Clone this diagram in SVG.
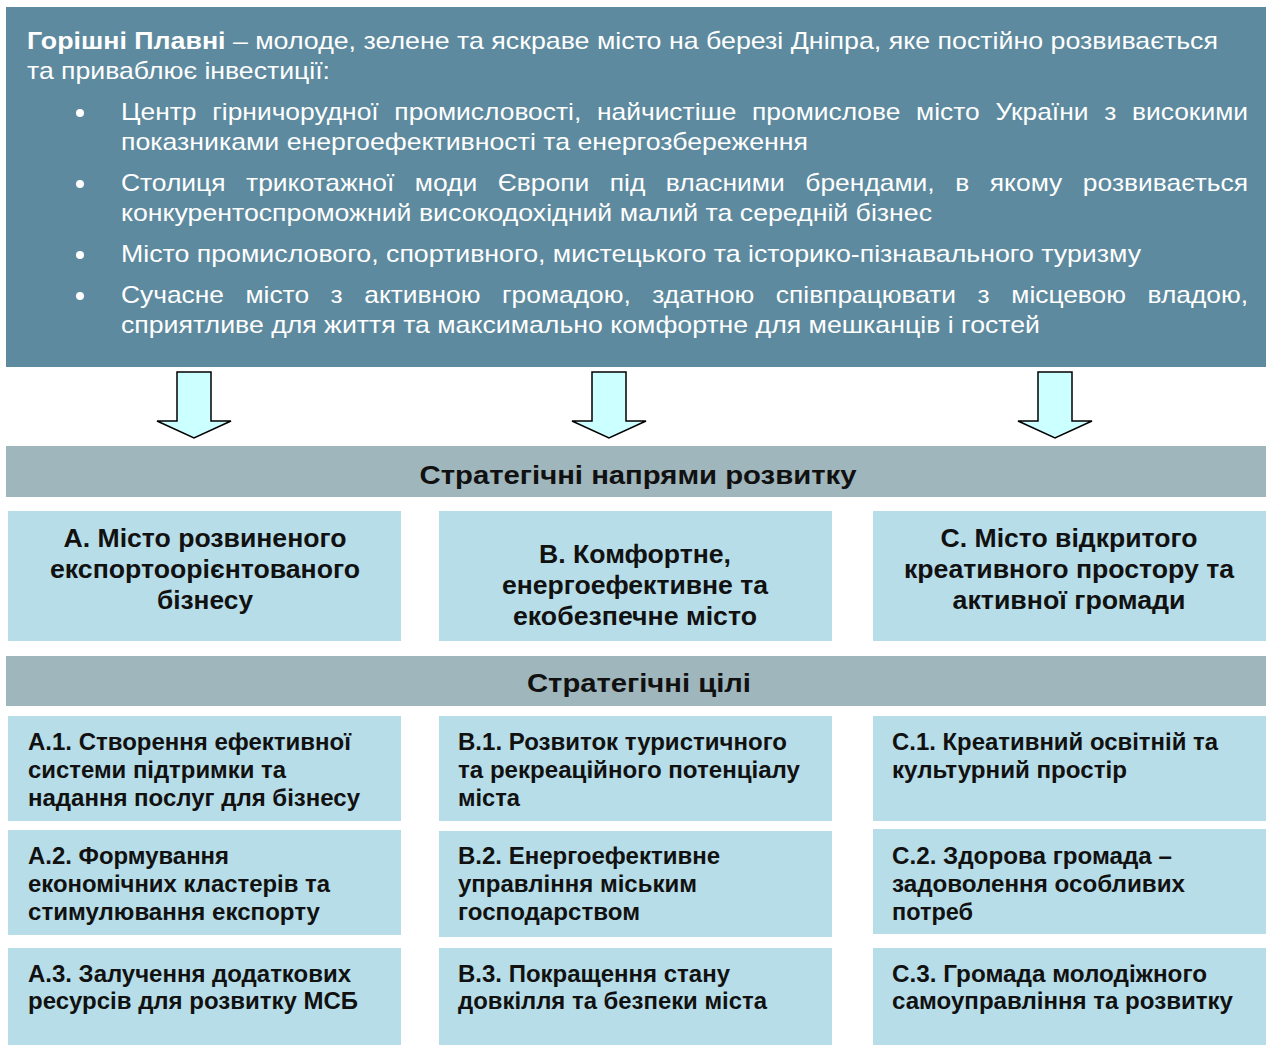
<svg xmlns="http://www.w3.org/2000/svg" width="1266" height="1046" viewBox="0 0 1266 1046">
<style>
.top{fill:#5D8A9E}
.bar{fill:#9FB6BC}
.box{fill:#B7DDE8}
.tw{font-family:"Liberation Sans",Arial,sans-serif;font-size:24px;fill:#FFFFFF}
.hd{font-family:"Liberation Sans",Arial,sans-serif;font-size:26px;font-weight:bold;fill:#111;text-anchor:middle}
.dir{font-family:"Liberation Sans",Arial,sans-serif;font-size:26px;font-weight:bold;fill:#111;text-anchor:middle}
.goal{font-family:"Liberation Sans",Arial,sans-serif;font-size:24px;font-weight:bold;fill:#111}
.arrow{fill:#CCFFFF;stroke:#000;stroke-width:1.5;stroke-linejoin:miter}
</style>
<rect width="1266" height="1046" fill="#FFFFFF"/>
<g id="vision">
<rect class="top" x="6" y="7" width="1260" height="360"/>
<text class="tw" x="27" y="49" textLength="1191" lengthAdjust="spacingAndGlyphs"><tspan font-weight="bold">Горішні Плавні</tspan> – молоде, зелене та яскраве місто на березі Дніпра, яке постійно розвивається</text>
<text class="tw" x="27" y="79" textLength="303" lengthAdjust="spacingAndGlyphs">та приваблює інвестиції:</text>
<circle cx="80" cy="113" r="4" fill="#FFFFFF"/>
<circle cx="80" cy="184" r="4" fill="#FFFFFF"/>
<circle cx="80" cy="255" r="4" fill="#FFFFFF"/>
<circle cx="80" cy="296" r="4" fill="#FFFFFF"/>
<text class="tw" x="121" y="120" word-spacing="7.6" textLength="1127" lengthAdjust="spacingAndGlyphs">Центр гірничорудної промисловості, найчистіше промислове місто України з високими</text>
<text class="tw" x="121" y="150" textLength="687" lengthAdjust="spacingAndGlyphs">показниками енергоефективності та енергозбереження</text>
<text class="tw" x="121" y="191" word-spacing="12" textLength="1127" lengthAdjust="spacingAndGlyphs">Столиця трикотажної моди Європи під власними брендами, в якому розвивається</text>
<text class="tw" x="121" y="221" textLength="811" lengthAdjust="spacingAndGlyphs">конкурентоспроможний високодохідний малий та середній бізнес</text>
<text class="tw" x="121" y="262" textLength="1020" lengthAdjust="spacingAndGlyphs">Місто промислового, спортивного, мистецького та історико-пізнавального туризму</text>
<text class="tw" x="121" y="303" word-spacing="13" textLength="1127" lengthAdjust="spacingAndGlyphs">Сучасне місто з активною громадою, здатною співпрацювати з місцевою владою,</text>
<text class="tw" x="121" y="333" textLength="919" lengthAdjust="spacingAndGlyphs">сприятливе для життя та максимально комфортне для мешканців і гостей</text>
</g>
<g id="connectors">
<path class="arrow" d="M177,372 H211 V421 H231 L194,438 L157,421 H177 Z"/>
<path class="arrow" d="M592,372 H626 V421 H646 L609,438 L572,421 H592 Z"/>
<path class="arrow" d="M1038,372 H1072 V421 H1092 L1055,438 L1018,421 H1038 Z"/>
</g>
<g id="header-directions">
<rect class="bar" x="6" y="446" width="1260" height="51"/>
<text class="hd" x="638" y="484" textLength="437" lengthAdjust="spacingAndGlyphs">Стратегічні напрями розвитку</text>
</g>
<g id="dir-A">
<rect class="box" x="8" y="511" width="393" height="130"/>
<text class="dir" x="205" y="547" textLength="283" lengthAdjust="spacingAndGlyphs">А. Місто розвиненого</text>
<text class="dir" x="205" y="578" textLength="310" lengthAdjust="spacingAndGlyphs">експортоорієнтованого</text>
<text class="dir" x="205" y="609" textLength="96" lengthAdjust="spacingAndGlyphs">бізнесу</text>
</g>
<g id="dir-B">
<rect class="box" x="439" y="511" width="393" height="130"/>
<text class="dir" x="635" y="563" textLength="192" lengthAdjust="spacingAndGlyphs">В. Комфортне,</text>
<text class="dir" x="635" y="594" textLength="266" lengthAdjust="spacingAndGlyphs">енергоефективне та</text>
<text class="dir" x="635" y="625" textLength="244" lengthAdjust="spacingAndGlyphs">екобезпечне місто</text>
</g>
<g id="dir-C">
<rect class="box" x="873" y="511" width="393" height="130"/>
<text class="dir" x="1069" y="547" textLength="257" lengthAdjust="spacingAndGlyphs">С. Місто відкритого</text>
<text class="dir" x="1069" y="578" textLength="330" lengthAdjust="spacingAndGlyphs">креативного простору та</text>
<text class="dir" x="1069" y="609" textLength="233" lengthAdjust="spacingAndGlyphs">активної громади</text>
</g>
<g id="header-goals">
<rect class="bar" x="6" y="656" width="1260" height="50"/>
<text class="hd" x="639" y="692" textLength="224" lengthAdjust="spacingAndGlyphs">Стратегічні цілі</text>
</g>
<g id="goal-A1">
<rect class="box" x="8" y="716" width="393" height="105"/>
<text class="goal" x="28" y="750" textLength="323" lengthAdjust="spacingAndGlyphs">А.1. Створення ефективної</text>
<text class="goal" x="28" y="778" textLength="258" lengthAdjust="spacingAndGlyphs">системи підтримки та</text>
<text class="goal" x="28" y="806" textLength="332" lengthAdjust="spacingAndGlyphs">надання послуг для бізнесу</text>
</g>
<g id="goal-A2">
<rect class="box" x="8" y="830" width="393" height="105"/>
<text class="goal" x="28" y="864" textLength="201" lengthAdjust="spacingAndGlyphs">А.2. Формування</text>
<text class="goal" x="28" y="892" textLength="302" lengthAdjust="spacingAndGlyphs">економічних кластерів та</text>
<text class="goal" x="28" y="920" textLength="292" lengthAdjust="spacingAndGlyphs">стимулювання експорту</text>
</g>
<g id="goal-A3">
<rect class="box" x="8" y="948" width="393" height="97"/>
<text class="goal" x="28" y="982" textLength="323" lengthAdjust="spacingAndGlyphs">А.3. Залучення додаткових</text>
<text class="goal" x="28" y="1009" textLength="330" lengthAdjust="spacingAndGlyphs">ресурсів для розвитку МСБ</text>
</g>
<g id="goal-B1">
<rect class="box" x="439" y="716" width="393" height="105"/>
<text class="goal" x="458" y="750" textLength="329" lengthAdjust="spacingAndGlyphs">В.1. Розвиток туристичного</text>
<text class="goal" x="458" y="778" textLength="342" lengthAdjust="spacingAndGlyphs">та рекреаційного потенціалу</text>
<text class="goal" x="458" y="806" textLength="62" lengthAdjust="spacingAndGlyphs">міста</text>
</g>
<g id="goal-B2">
<rect class="box" x="439" y="831" width="393" height="106"/>
<text class="goal" x="458" y="864" textLength="262" lengthAdjust="spacingAndGlyphs">В.2. Енергоефективне</text>
<text class="goal" x="458" y="892" textLength="239" lengthAdjust="spacingAndGlyphs">управління міським</text>
<text class="goal" x="458" y="920" textLength="182" lengthAdjust="spacingAndGlyphs">господарством</text>
</g>
<g id="goal-B3">
<rect class="box" x="439" y="948" width="393" height="97"/>
<text class="goal" x="458" y="982" textLength="272" lengthAdjust="spacingAndGlyphs">В.3. Покращення стану</text>
<text class="goal" x="458" y="1009" textLength="309" lengthAdjust="spacingAndGlyphs">довкілля та безпеки міста</text>
</g>
<g id="goal-C1">
<rect class="box" x="873" y="716" width="393" height="105"/>
<text class="goal" x="892" y="750" textLength="326" lengthAdjust="spacingAndGlyphs">С.1. Креативний освітній та</text>
<text class="goal" x="892" y="778" textLength="235" lengthAdjust="spacingAndGlyphs">культурний простір</text>
</g>
<g id="goal-C2">
<rect class="box" x="873" y="829" width="393" height="105"/>
<text class="goal" x="892" y="864" textLength="280" lengthAdjust="spacingAndGlyphs">С.2. Здорова громада –</text>
<text class="goal" x="892" y="892" textLength="293" lengthAdjust="spacingAndGlyphs">задоволення особливих</text>
<text class="goal" x="892" y="920" textLength="81" lengthAdjust="spacingAndGlyphs">потреб</text>
</g>
<g id="goal-C3">
<rect class="box" x="873" y="948" width="393" height="97"/>
<text class="goal" x="892" y="982" textLength="315" lengthAdjust="spacingAndGlyphs">С.3. Громада молодіжного</text>
<text class="goal" x="892" y="1009" textLength="341" lengthAdjust="spacingAndGlyphs">самоуправління та розвитку</text>
</g>
</svg>
